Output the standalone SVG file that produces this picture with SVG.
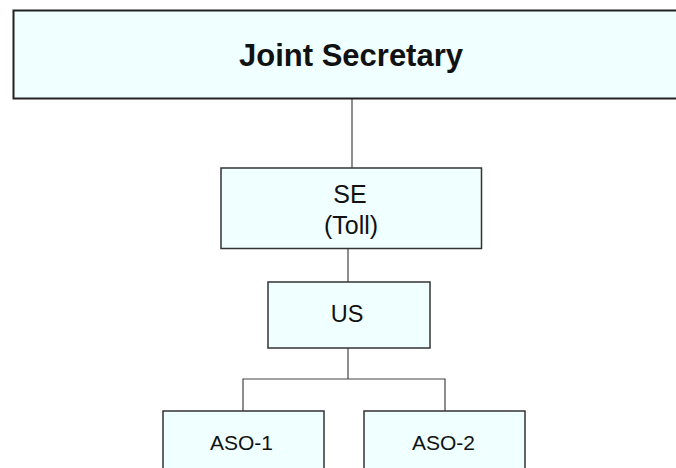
<svg xmlns="http://www.w3.org/2000/svg" width="676" height="468" viewBox="0 0 676 468">
<style>
.box{fill:#F0FFFF;stroke:#333;stroke-width:1.5}
.t{font-family:"Liberation Sans",Arial,sans-serif;fill:#111;text-anchor:middle}
.c{stroke:#444;stroke-width:1.2;fill:none}
</style>
<rect width="676" height="468" fill="#fff"/>
<g id="connectors">
<path class="c" d="M352 99V168"/>
<path class="c" d="M348 249V282"/>
<path class="c" d="M348 348V379M243 411V379H445V411"/>
</g>
<g id="js">
<rect class="box" x="13.5" y="10.5" width="720" height="88" style="stroke:#222;stroke-width:2"/>
<text class="t" x="351" y="65.5" font-size="31" font-weight="bold">Joint Secretary</text>
</g>
<g id="se">
<rect class="box" x="221" y="168" width="260.5" height="80.5"/>
<text class="t" x="350" y="202.5" font-size="25">SE</text>
<text class="t" x="351" y="233.5" font-size="25">(Toll)</text>
</g>
<g id="us">
<rect class="box" x="268" y="282" width="162" height="66"/>
<text class="t" x="347" y="322" font-size="23.5">US</text>
</g>
<g id="aso1">
<rect class="box" x="163" y="411" width="161" height="70"/>
<text class="t" x="241.5" y="449.5" font-size="21">ASO-1</text>
</g>
<g id="aso2">
<rect class="box" x="364" y="411" width="161" height="70"/>
<text class="t" x="443.5" y="449.5" font-size="21">ASO-2</text>
</g>
</svg>
